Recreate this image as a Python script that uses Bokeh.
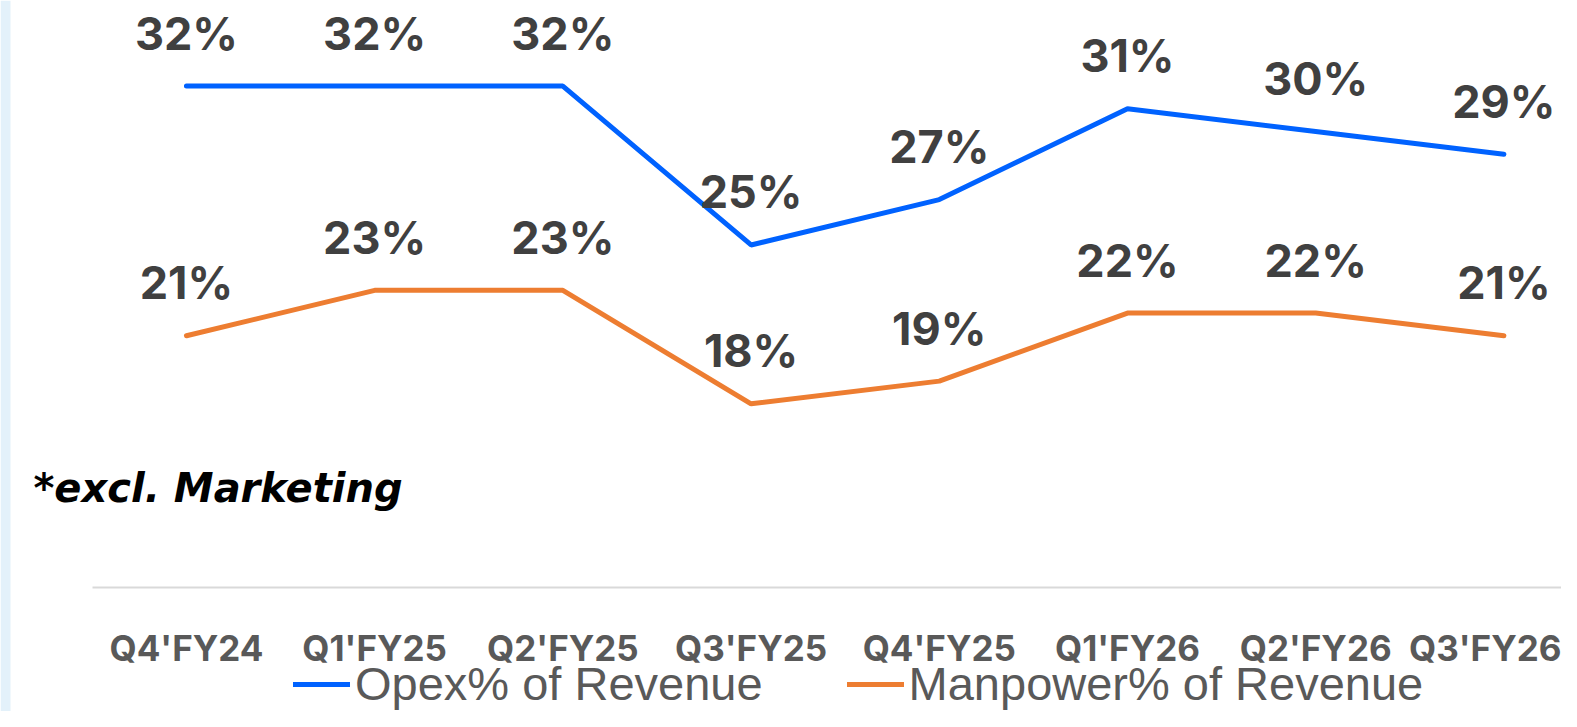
from bokeh.plotting import figure
from bokeh.models import (Range1d, FixedTicker, Legend, LegendItem, Label,
                          ColumnDataSource, BoxAnnotation)
from bokeh.core.properties import value
from bokeh.embed import file_html
from bokeh.resources import INLINE

quarters = ["Q4'FY24", "Q1'FY25", "Q2'FY25", "Q3'FY25", "Q4'FY25", "Q1'FY26", "Q2'FY26", "Q3'FY26"]
opex = [32, 32, 32, 25, 27, 31, 30, 29]
manpower = [21, 23, 23, 18, 19, 22, 22, 21]

xs = list(range(len(quarters)))
src = ColumnDataSource(dict(
    x=xs, opex=opex, manpower=manpower,
    opex_lbl=[f"{v}%" for v in opex],
    man_lbl=[f"{v}%" for v in manpower],
))

p = figure(width=1561, height=711, output_backend="svg", toolbar_location=None,
           x_range=Range1d(-0.988, 7.306), y_range=Range1d(4.445, 35.77),
           min_border_left=0, min_border_right=0, min_border_top=0, min_border_bottom=0)
p.outline_line_color = None
p.background_fill_color = "white"
p.border_fill_color = "white"
p.grid.visible = False
p.yaxis.visible = False

# light blue page strip on the far left
p.add_layout(BoxAnnotation(left=0, right=10, left_units="screen", right_units="screen",
                           fill_color="#E3F1FA", fill_alpha=1, line_color=None))

ax = p.xaxis[0]
ax.fixed_location = 9.907
ax.ticker = FixedTicker(ticks=xs)
ax.bounds = (-0.5, 7.306)
ax.major_label_overrides = {i: q for i, q in enumerate(quarters)}
ax.axis_line_color = "#d9d9d9"
ax.axis_line_width = 2
ax.major_tick_line_color = None
ax.minor_tick_line_color = None
ax.major_label_text_font = "Inter"
ax.major_label_text_font_style = "bold"
ax.major_label_text_font_size = "35px"
ax.major_label_text_color = "#595959"
ax.major_label_standoff = 33

BLUE = "#0062FF"
ORANGE = "#ED7D31"

r1 = p.line("x", "opex", source=src, line_color=BLUE, line_width=5, line_cap="round")
r2 = p.line("x", "manpower", source=src, line_color=ORANGE, line_width=5, line_cap="round")

for col, lbl in (("opex", "opex_lbl"), ("manpower", "man_lbl")):
    p.text("x", col, text=lbl, source=src, y_offset=-53,
           text_align="center", text_baseline="alphabetic",
           text_font=value("Inter"), text_font_style="bold",
           text_font_size="45px", text_color="#404040")

note = Label(x=-0.813, y=14.31, text="*excl. Marketing",
             text_font="DejaVu Sans", text_font_style="bold italic",
             text_font_size="40px", text_color="#000000",
             text_baseline="alphabetic", text_align="left")
p.add_layout(note)

legend = Legend(items=[LegendItem(label="Opex% of Revenue", renderers=[r1]),
                       LegendItem(label="Manpower% of Revenue", renderers=[r2])],
                orientation="horizontal", location=(293, 0))
legend.label_text_font = "Liberation Sans"
legend.label_text_font_size = "47px"
legend.label_text_color = "#595959"
legend.glyph_width = 57
legend.label_standoff = 5
legend.spacing = 84
legend.padding = 0
legend.margin = 0
legend.border_line_color = None
legend.background_fill_alpha = 0
p.add_layout(legend, "center")

open("out.html", "w").write(file_html(p, INLINE))
